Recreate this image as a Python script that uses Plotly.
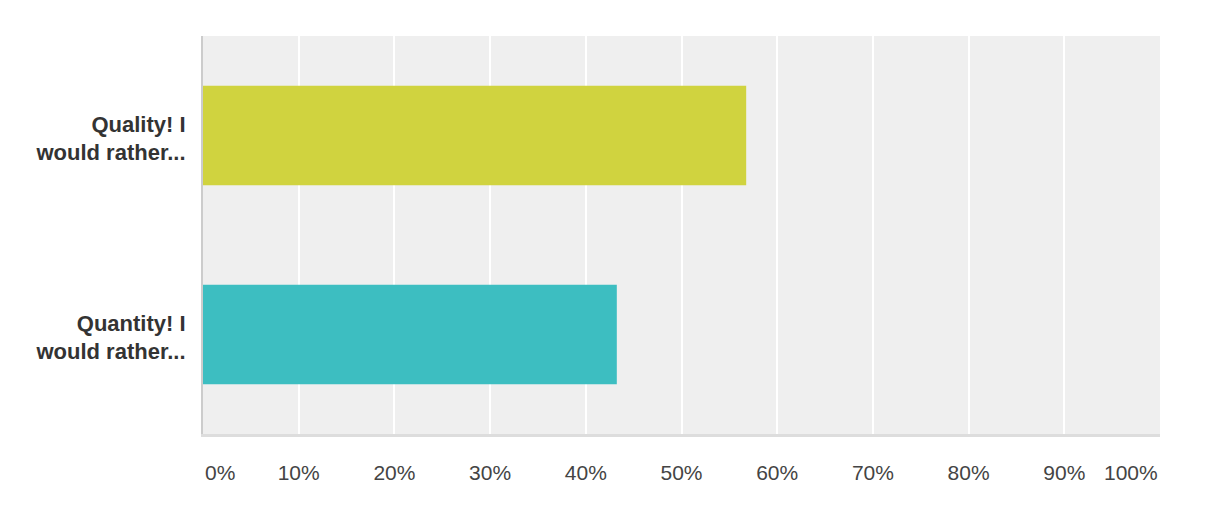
import plotly.graph_objects as go

categories = ["Quality! I<br>would rather...", "Quantity! I<br>would rather..."]
values = [56.76, 43.24]
bar_colors = ["#d0d33f", "#3dbec1"]
tick_vals = [0, 10, 20, 30, 40, 50, 60, 70, 80, 90, 100]
tick_text = ["0%", "10%", "20%", "30%", "40%", "50%", "60%", "70%", "80%", "90%", "100%"]

FONT = "Liberation Sans, Arial, Helvetica, sans-serif"

fig = go.Figure()
fig.add_trace(go.Bar(
    x=values,
    y=categories,
    orientation="h",
    marker=dict(color=bar_colors, line=dict(width=0)),
    hoverinfo="skip",
))

inner_vals = tick_vals[1:-1]
inner_text = tick_text[1:-1]

fig.update_layout(
    width=1208,
    height=510,
    margin=dict(l=195, r=56, t=28, b=84),
    paper_bgcolor="white",
    plot_bgcolor="#efefef",
    bargap=0.5,
    showlegend=False,
    font=dict(family=FONT, color="#333333"),
    xaxis=dict(
        range=[0, 100],
        tickvals=inner_vals,
        ticktext=inner_text,
        showgrid=True,
        gridcolor="white",
        gridwidth=2,
        zeroline=False,
        showline=True,
        linecolor="#dddddd",
        linewidth=3,
        ticks="",
        ticklabelstandoff=18,
        tickfont=dict(size=21, color="#444444", family=FONT),
        fixedrange=True,
    ),
    yaxis=dict(
        autorange="reversed",
        showgrid=False,
        zeroline=False,
        showline=True,
        linecolor="#cccccc",
        linewidth=2,
        ticks="",
        ticklabelstandoff=11,
        ticklabelshift=-3,
        tickfont=dict(size=22, color="#333333", family=FONT, weight="bold"),
        fixedrange=True,
    ),
)

for v, t, anchor in [(tick_vals[0], tick_text[0], "left"), (tick_vals[-1], tick_text[-1], "right")]:
    fig.add_annotation(
        x=v, xref="x", y=0, yref="paper", yshift=-25,
        text=t, showarrow=False, xanchor=anchor, yanchor="top",
        font=dict(size=21, color="#444444", family=FONT),
    )

fig.write_html("out.html")
